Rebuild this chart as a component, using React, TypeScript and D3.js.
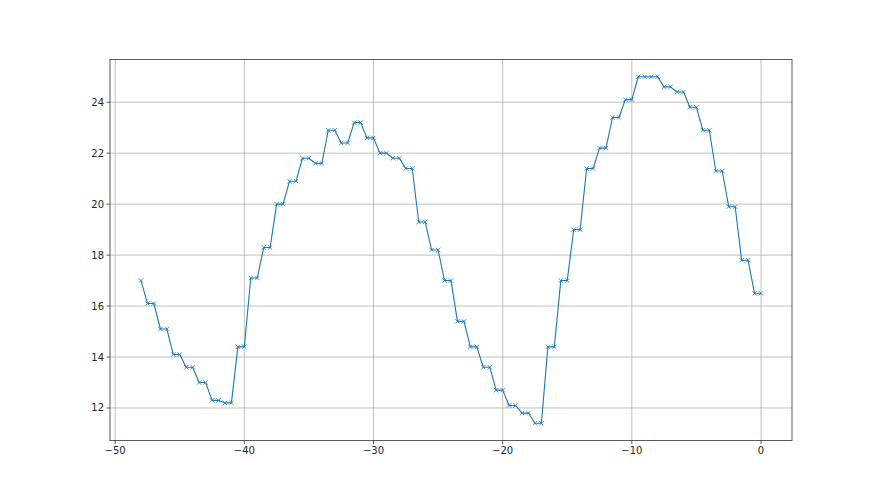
import React from "react";
import * as d3 from "d3";

const xStart = -48;
const xStep = 0.5;
// first point, then pairs of equal values ending at each integer -47..0
const firstValue = 17.0;
const pairValues = [
  16.1, 15.1, 14.1, 13.6, 13.0, 12.3, 12.2, 14.4, 17.1, 18.3,
  20.0, 20.9, 21.8, 21.6, 22.9, 22.4, 23.2, 22.6, 22.0, 21.8,
  21.4, 19.3, 18.2, 17.0, 15.4, 14.4, 13.6, 12.7, 12.1, 11.8,
  11.4, 14.4, 17.0, 19.0, 21.4, 22.2, 23.4, 24.1, 25.0, 25.0,
  24.6, 24.4, 23.8, 22.9, 21.3, 19.9, 17.8, 16.5,
];
const xTicks = [-50, -40, -30, -20, -10, 0];
const yTicks = [12, 14, 16, 18, 20, 22, 24];

const values: number[] = [firstValue];
pairValues.forEach((v) => {
  values.push(v, v);
});
const data = values.map((v, i) => ({ x: xStart + i * xStep, y: v }));

const W = 880;
const H = 495;
const left = 110;
const right = 792;
const top = 59.4;
const bottom = 440.6;

export default function App() {
  const xMin = d3.min(data, (d) => d.x)!;
  const xMax = d3.max(data, (d) => d.x)!;
  const yMin = d3.min(data, (d) => d.y)!;
  const yMax = d3.max(data, (d) => d.y)!;
  const xm = (xMax - xMin) * 0.05;
  const ym = (yMax - yMin) * 0.05;
  const x = d3.scaleLinear().domain([xMin - xm, xMax + xm]).range([left, right]);
  const y = d3.scaleLinear().domain([yMin - ym, yMax + ym]).range([bottom, top]);
  const line = d3
    .line<{ x: number; y: number }>()
    .x((d) => x(d.x))
    .y((d) => y(d.y));
  const fmt = d3.format("d");
  const color = "#1f77b4";
  const ms = 2.2;
  return (
    <svg
      width={W}
      height={H}
      style={{ position: "absolute", left: 0, top: 0, background: "#fff" }}
      fontFamily="DejaVu Sans, sans-serif"
      fontSize={10}
    >
      <rect x={0} y={0} width={W} height={H} fill="#fff" />
      <g>
        {xTicks.map((t) => (
          <line key={"gx" + t} x1={x(t)} x2={x(t)} y1={top} y2={bottom} stroke="#b0b0b0" strokeWidth={0.8} />
        ))}
        {yTicks.map((t) => (
          <line key={"gy" + t} x1={left} x2={right} y1={y(t)} y2={y(t)} stroke="#b0b0b0" strokeWidth={0.8} />
        ))}
      </g>
      <path d={line(data)!} fill="none" stroke={color} strokeWidth={1.1} strokeLinejoin="round" />
      <g stroke={color} strokeWidth={0.8}>
        {data.map((d, i) => (
          <g key={i} transform={`translate(${x(d.x)},${y(d.y)})`}>
            <line x1={-ms} y1={-ms} x2={ms} y2={ms} />
            <line x1={-ms} y1={ms} x2={ms} y2={-ms} />
          </g>
        ))}
      </g>
      <rect x={left} y={top} width={right - left} height={bottom - top} fill="none" stroke="#333" strokeWidth={0.8} />
      <g>
        {xTicks.map((t) => (
          <g key={"tx" + t}>
            <line x1={x(t)} x2={x(t)} y1={bottom} y2={bottom + 3.5} stroke="#333" strokeWidth={0.8} />
            <text x={x(t)} y={bottom + 13} textAnchor="middle" fill="#262626">
              {fmt(t)}
            </text>
          </g>
        ))}
        {yTicks.map((t) => (
          <g key={"ty" + t}>
            <line x1={left - 3.5} x2={left} y1={y(t)} y2={y(t)} stroke="#333" strokeWidth={0.8} />
            <text x={left - 6} y={y(t)} dy="0.35em" textAnchor="end" fill="#262626">
              {fmt(t)}
            </text>
          </g>
        ))}
      </g>
    </svg>
  );
}
